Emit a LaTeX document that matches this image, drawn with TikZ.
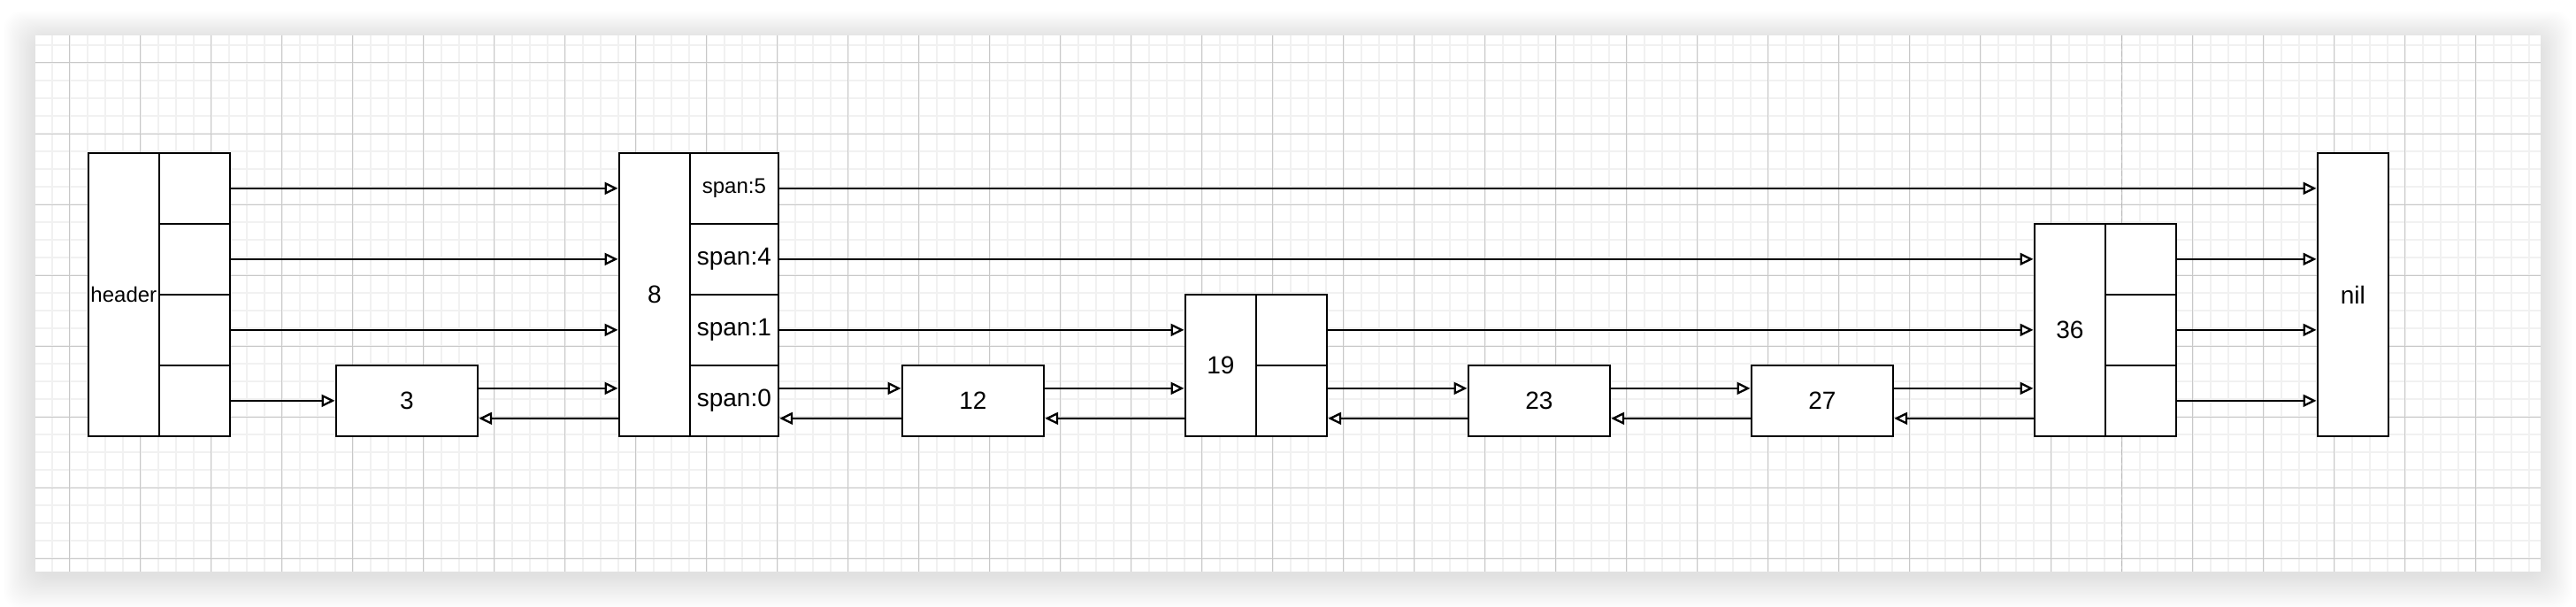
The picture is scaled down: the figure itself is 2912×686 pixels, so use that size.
\documentclass[tikz,border=0pt]{standalone}
\usepackage{fontspec}
\setmainfont{Liberation Sans}
\usetikzlibrary{arrows.meta}
\definecolor{minorgrid}{HTML}{F1F1F1}
\definecolor{majorgrid}{HTML}{C8C8C8}
\definecolor{pagebreak}{HTML}{B8B8B8}
\tikzset{
  shape box/.style={draw=black, line width=1.35bp, fill=white, inner sep=0pt, anchor=north west, text=black},
  colbox/.style={shape box, minimum width=40bp, font=\fontsize{14bp}{16bp}\selectfont},
  cellbox/.style={shape box, minimum width=40bp, minimum height=40bp, font=\fontsize{14bp}{16bp}\selectfont},
  spancell/.style={shape box, minimum width=50bp, minimum height=40bp, font=\fontsize{14bp}{16bp}\selectfont},
  valbox/.style={shape box, minimum width=80bp, minimum height=40bp, font=\fontsize{14bp}{16bp}\selectfont},
  link/.style={draw=black, line width=1.15bp, -{Triangle[length=7.5bp, width=7bp, fill=white, line width=1.15bp]}},
}
\begin{document}
\begin{tikzpicture}[x=0.5bp, y=-0.5bp]
\useasboundingbox (0,0) rectangle (2912,686);
\fill[white] (0,0) rectangle (2912,686);
% page shadow
\foreach \i in {1,...,30} {
  \fill[black, opacity=0.0035, rounded corners=10bp] ({40-1.2*\i},{44-1.05*\i}) rectangle ({2872+1.2*\i},{650+1.3*\i});
}
% page
\fill[white] (40,40) rectangle (2872,646);
% minor grid
\foreach \k in {0,...,140} \draw[minorgrid, line width=1bp] ({58.5+20*\k},40) -- ({58.5+20*\k},646);
\foreach \k in {0,...,29} \draw[minorgrid, line width=1bp] (40,{51+20*\k}) -- (2872,{51+20*\k});
% major grid
\foreach \k in {0,...,34} \draw[majorgrid, line width=0.5bp] ({78.5+80*\k},40) -- ({78.5+80*\k},646);
\foreach \k in {0,...,7} \draw[majorgrid, line width=0.5bp] (40,{71+80*\k}) -- (2872,{71+80*\k});
% page break
\draw[pagebreak, line width=0.9bp, dash pattern=on 3bp off 1.5bp] (2398.5,40) -- (2398.5,646);

% header
\node[colbox, minimum height=160bp, font=\fontsize{12bp}{14bp}\selectfont] (hdr) at (98.5,171.5) {header};
\node[cellbox] (hdr1) at (178.5,171.5) {};
\node[cellbox] (hdr2) at (178.5,251.5) {};
\node[cellbox] (hdr3) at (178.5,331.5) {};
\node[cellbox] (hdr4) at (178.5,411.5) {};
% 3
\node[valbox] (b3) at (378.5,411.5) {3};
% 8
\node[colbox, minimum height=160bp] (n8) at (698.5,171.5) {8};
\node[spancell, font=\fontsize{12bp}{14bp}\selectfont] (s5) at (778.5,171.5) {span:5};
\node[spancell] (s4) at (778.5,251.5) {span:4};
\node[spancell] (s1) at (778.5,331.5) {span:1};
\node[spancell] (s0) at (778.5,411.5) {span:0};
% 12
\node[valbox] (b12) at (1018.5,411.5) {12};
% 19
\node[colbox, minimum height=80bp] (n19) at (1338.5,331.5) {19};
\node[cellbox] (c19a) at (1418.5,331.5) {};
\node[cellbox] (c19b) at (1418.5,411.5) {};
% 23, 27
\node[valbox] (b23) at (1658.5,411.5) {23};
\node[valbox] (b27) at (1978.5,411.5) {27};
% 36
\node[colbox, minimum height=120bp] (n36) at (2298.5,251.5) {36};
\node[cellbox] (c36a) at (2378.5,251.5) {};
\node[cellbox] (c36b) at (2378.5,331.5) {};
\node[cellbox] (c36c) at (2378.5,411.5) {};
% nil
\node[colbox, minimum height=160bp] (nil) at (2618.5,171.5) {nil};

% forward / backward anchor points on the bottom level
\foreach \n in {b3,b12,b23,b27} {
  \coordinate (\n-fo) at ([yshift=7bp]\n.east);
  \coordinate (\n-bi) at ([yshift=-10bp]\n.east);
  \coordinate (\n-fi) at ([yshift=7bp]\n.west);
  \coordinate (\n-bo) at ([yshift=-10bp]\n.west);
}
\coordinate (s0-fo) at ([yshift=7bp]s0.east);
\coordinate (s0-bi) at ([yshift=-10bp]s0.east);
\coordinate (c19b-fo) at ([yshift=7bp]c19b.east);
\coordinate (c19b-bi) at ([yshift=-10bp]c19b.east);
\coordinate (n8-bo) at (n8.west |- b3-bi);
\coordinate (n19-bo) at (n19.west |- b12-bi);
\coordinate (n36-bo) at (n36.west |- b27-bi);

% header links
\draw[link] (hdr1.east) -- (hdr1.east -| n8.west);
\draw[link] (hdr2.east) -- (hdr2.east -| n8.west);
\draw[link] (hdr3.east) -- (hdr3.east -| n8.west);
\draw[link] (hdr4.east) -- (b3.west);
% 3 <-> 8
\draw[link] (b3-fo) -- (b3-fo -| n8.west);
\draw[link] (n8-bo) -- (b3-bi);
% 8 spans
\draw[link] (s5.east) -- (s5.east -| nil.west);
\draw[link] (s4.east) -- (s4.east -| n36.west);
\draw[link] (s1.east) -- (s1.east -| n19.west);
\draw[link] (s0-fo) -- (b12-fi);
\draw[link] (b12-bo) -- (s0-bi);
% 12 <-> 19
\draw[link] (b12-fo) -- (b12-fo -| n19.west);
\draw[link] (n19-bo) -- (b12-bi);
% 19 links
\draw[link] (c19a.east) -- (c19a.east -| n36.west);
\draw[link] (c19b-fo) -- (b23-fi);
\draw[link] (b23-bo) -- (c19b-bi);
% 23 <-> 27
\draw[link] (b23-fo) -- (b27-fi);
\draw[link] (b27-bo) -- (b23-bi);
% 27 <-> 36
\draw[link] (b27-fo) -- (b27-fo -| n36.west);
\draw[link] (n36-bo) -- (b27-bi);
% 36 -> nil
\draw[link] (c36a.east) -- (c36a.east -| nil.west);
\draw[link] (c36b.east) -- (c36b.east -| nil.west);
\draw[link] (c36c.east) -- (c36c.east -| nil.west);
\end{tikzpicture}
\end{document}
